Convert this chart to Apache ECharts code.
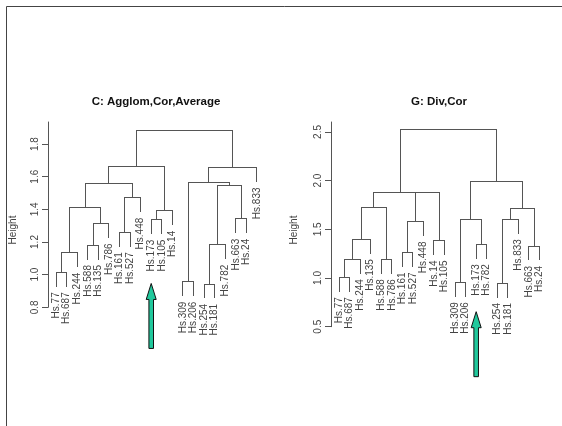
<!DOCTYPE html>
<html>
<head>
<meta charset="utf-8">
<script src="https://cdn.jsdelivr.net/npm/echarts@6/dist/echarts.min.js"></script>
<style>
  html, body { margin: 0; padding: 0; background: #fff; }
  #chart { width: 562px; height: 426px; }
</style>
</head>
<body>
<div id="chart"></div>
<script>
// C: Agglom,Cor,Average -- leaves in plotting order
const labelsC = ['Hs.77', 'Hs.687', 'Hs.244', 'Hs.588', 'Hs.135', 'Hs.786', 'Hs.161', 'Hs.527', 'Hs.448', 'Hs.173',
                 'Hs.105', 'Hs.14', 'Hs.309', 'Hs.206', 'Hs.254', 'Hs.181', 'Hs.782', 'Hs.663', 'Hs.24', 'Hs.833'];
// merge table like hclust: negative = leaf position, positive = earlier merge
const mergeC = [[-1, -2], [1, -3], [-4, -5], [3, -6], [2, 4], [-7, -8], [6, -9], [5, 7], [-10, -11], [9, -12],
                [8, 10], [-13, -14], [-15, -16], [13, -17], [-18, -19], [14, 15], [12, 16], [17, -20], [11, 18]];
const heightC = [1.013, 1.133, 1.18, 1.313, 1.41, 1.258, 1.47, 1.56, 1.335, 1.39,
                 1.661, 0.956, 0.942, 1.182, 1.341, 1.545, 1.566, 1.655, 1.88];
const ticksC = [0.8, 1.0, 1.2, 1.4, 1.6, 1.8];

// G: Div,Cor
const labelsG = ['Hs.77', 'Hs.687', 'Hs.244', 'Hs.135', 'Hs.588', 'Hs.786', 'Hs.161', 'Hs.527', 'Hs.448', 'Hs.14',
                 'Hs.105', 'Hs.309', 'Hs.206', 'Hs.173', 'Hs.782', 'Hs.254', 'Hs.181', 'Hs.833', 'Hs.663', 'Hs.24'];
const mergeG = [[-1, -2], [1, -3], [2, -4], [-5, -6], [3, 4], [-7, -8], [6, -9], [-10, -11], [7, 8], [5, 9],
                [-12, -13], [-14, -15], [11, 12], [-16, -17], [14, -18], [-19, -20], [15, 16], [13, 17], [10, 18]];
const heightG = [1.007, 1.192, 1.397, 1.192, 1.729, 1.26, 1.578, 1.383, 1.88, 1.88,
                 0.956, 1.346, 1.603, 0.946, 1.603, 1.328, 1.712, 1.996, 2.52];
const ticksG = [0.5, 1.0, 1.5, 2.0, 2.5];

// arrows: [leaf, tail height, tip height]
const arrowC = ['Hs.173', 0.548, 0.946];
const arrowG = ['Hs.173', -0.013, 0.654];

const FONT = '"Liberation Sans", Arial, sans-serif';
const LINE = '#555';
const TEXT = '#444';

// build segments like plot.hclust does
function layout(labels, merge, height) {
    const hang = 0.09 * (Math.max.apply(null, height) - Math.min.apply(null, height));
    const mx = [];
    const segs = [];
    const leaves = [];
    const posOf = function (c) { return c < 0 ? -c : mx[c - 1]; };
    merge.forEach(function (m, i) {
        const h = height[i];
        const xa = posOf(m[0]), xb = posOf(m[1]);
        mx.push((xa + xb) / 2);
        segs.push([xa, h, xb, h]);
        m.forEach(function (c) {
            if (c < 0) {
                segs.push([-c, h, -c, h - hang]);
                leaves.push([-c, h - hang, -c - 1]);
            } else {
                segs.push([mx[c - 1], h, mx[c - 1], height[c - 1]]);
            }
        });
    });
    return { segs: segs, leaves: leaves };
}

const treeC = layout(labelsC, mergeC, heightC);
const treeG = layout(labelsG, mergeG, heightG);

function crisp(v) { return Math.round(v - 0.5) + 0.5; }

function segSeries(idx, tree) {
    return {
        type: 'custom', xAxisIndex: idx, yAxisIndex: idx, clip: false, silent: true,
        data: tree.segs,
        renderItem: function (params, api) {
            const p1 = api.coord([api.value(0), api.value(1)]);
            const p2 = api.coord([api.value(2), api.value(3)]);
            return {
                type: 'line',
                shape: { x1: crisp(p1[0]), y1: crisp(p1[1]), x2: crisp(p2[0]), y2: crisp(p2[1]) },
                style: { stroke: LINE, lineWidth: 1, lineCap: 'square' }
            };
        }
    };
}

function leafSeries(idx, tree, labels) {
    return {
        type: 'custom', xAxisIndex: idx, yAxisIndex: idx, clip: false, silent: true,
        data: tree.leaves,
        renderItem: function (params, api) {
            const p = api.coord([api.value(0), api.value(1)]);
            return {
                type: 'text', x: p[0], y: p[1] + 6, rotation: Math.PI / 2,
                style: {
                    text: labels[api.value(2)], fill: TEXT, fontSize: 10, fontFamily: FONT,
                    align: 'right', verticalAlign: 'middle'
                }
            };
        }
    };
}

function arrowSeries(idx, arrow, labels) {
    return {
        type: 'custom', xAxisIndex: idx, yAxisIndex: idx, clip: false, silent: true,
        data: [[labels.indexOf(arrow[0]) + 1, arrow[1], arrow[2]]],
        renderItem: function (params, api) {
            const tail = api.coord([api.value(0), api.value(1)]);
            const tip = api.coord([api.value(0), api.value(2)]);
            const x = tip[0], y = tip[1], hw = 5, sw = 2.3, hl = 16;
            return {
                type: 'polygon',
                shape: { points: [[x, y], [x + hw, y + hl], [x + sw, y + hl], [x + sw, tail[1]],
                                  [x - sw, tail[1]], [x - sw, y + hl], [x - hw, y + hl]] },
                style: { fill: '#20c89c', stroke: '#111', lineWidth: 1 }
            };
        }
    };
}

function yAxis(idx, min, max, ticks) {
    return {
        type: 'value', gridIndex: idx, min: min, max: max,
        axisLine: { show: true, lineStyle: { color: LINE, width: 1 } },
        axisTick: { show: true, length: 6, customValues: ticks, lineStyle: { color: LINE } },
        axisLabel: {
            customValues: ticks, rotate: 90, margin: 8, color: TEXT, fontSize: 10, fontFamily: FONT,
            formatter: function (v) { return v.toFixed(1); }
        },
        splitLine: { show: false }
    };
}

const chart = echarts.init(document.getElementById('chart'));
chart.setOption({
    animation: false,
    backgroundColor: '#fff',
    grid: [
        { left: 48, top: 122, width: 217, height: 185.3 },
        { left: 331, top: 122, width: 216.5, height: 204.7 }
    ],
    xAxis: [
        { type: 'value', gridIndex: 0, min: 0.24, max: 20.76, show: false },
        { type: 'value', gridIndex: 1, min: 0.24, max: 20.76, show: false }
    ],
    yAxis: [
        yAxis(0, 0.8, 1.935, ticksC),
        yAxis(1, 0.5, 2.602, ticksG)
    ],
    graphic: [
        { type: 'polyline', silent: true, shape: { points: [[6.5, 426], [6.5, 6.5], [562, 6.5]] },
          style: { stroke: '#444', lineWidth: 1, fill: null } },
        { type: 'text', x: 156, y: 102, silent: true,
          style: { text: 'C: Agglom,Cor,Average', font: 'bold 11.5px ' + FONT, fill: '#111',
                   align: 'center', verticalAlign: 'middle' } },
        { type: 'text', x: 439, y: 102, silent: true,
          style: { text: 'G: Div,Cor', font: 'bold 11.5px ' + FONT, fill: '#111',
                   align: 'center', verticalAlign: 'middle' } },
        { type: 'text', x: 13.5, y: 230, rotation: Math.PI / 2, silent: true,
          style: { text: 'Height', fontSize: 10, fontFamily: FONT, fill: TEXT,
                   align: 'center', verticalAlign: 'middle' } },
        { type: 'text', x: 294.5, y: 230, rotation: Math.PI / 2, silent: true,
          style: { text: 'Height', fontSize: 10, fontFamily: FONT, fill: TEXT,
                   align: 'center', verticalAlign: 'middle' } }
    ],
    series: [
        segSeries(0, treeC), leafSeries(0, treeC, labelsC), arrowSeries(0, arrowC, labelsC),
        segSeries(1, treeG), leafSeries(1, treeG, labelsG), arrowSeries(1, arrowG, labelsG)
    ]
});
</script>
</body>
</html>
